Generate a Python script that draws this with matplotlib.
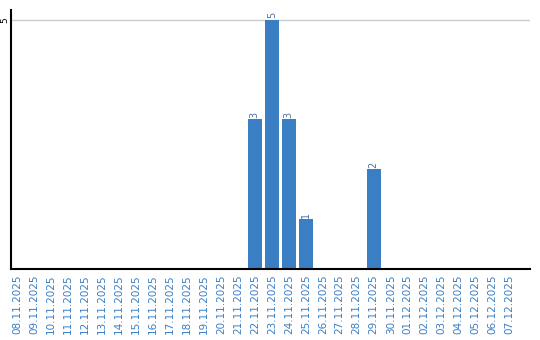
import matplotlib
matplotlib.use('Agg')
import matplotlib.pyplot as plt

# Daily counts, 08.11.2025 - 07.12.2025
dates = ['08.11.2025', '09.11.2025', '10.11.2025', '11.11.2025', '12.11.2025',
         '13.11.2025', '14.11.2025', '15.11.2025', '16.11.2025', '17.11.2025',
         '18.11.2025', '19.11.2025', '20.11.2025', '21.11.2025', '22.11.2025',
         '23.11.2025', '24.11.2025', '25.11.2025', '26.11.2025', '27.11.2025',
         '28.11.2025', '29.11.2025', '30.11.2025', '01.12.2025', '02.12.2025',
         '03.12.2025', '04.12.2025', '05.12.2025', '06.12.2025', '07.12.2025']
counts = [0, 0, 0, 0, 0, 0, 0, 0, 0, 0, 0, 0, 0, 0, 3,
          5, 3, 1, 0, 0, 0, 2, 0, 0, 0, 0, 0, 0, 0, 0]

blue = '#3a7ec4'

fig = plt.figure(figsize=(5.4, 3.4), dpi=100)
ax = fig.add_axes([0.0204, 0.209, 0.9611, 0.762])

x = list(range(len(dates)))
bars = ax.bar(x, counts, width=0.82, color=blue, zorder=2)

# value labels on non-empty bars
for xi, c in zip(x, counts):
    if c > 0:
        ax.text(xi, c + 0.03, str(c), rotation=90, ha='center', va='bottom',
                fontsize=7, color='#4a74a8')

ax.set_xlim(-0.35, 30.2)
ax.set_ylim(0, 5.2)
ax.set_xticks(x)
ax.set_xticklabels(dates, rotation=90, fontsize=7.5, color=blue)
ax.set_yticks([5])
ax.set_yticklabels(['5'], rotation=90, fontsize=6.5, va='center')
ax.tick_params(axis='x', length=0, pad=4)
ax.tick_params(axis='y', length=0, pad=1)
ax.yaxis.grid(True, color='#cccccc', linewidth=1, zorder=0)

for side in ['top', 'right']:
    ax.spines[side].set_visible(False)
ax.spines['left'].set_linewidth(1.5)
ax.spines['bottom'].set_linewidth(1.5)

plt.savefig('out.png', dpi=100)
